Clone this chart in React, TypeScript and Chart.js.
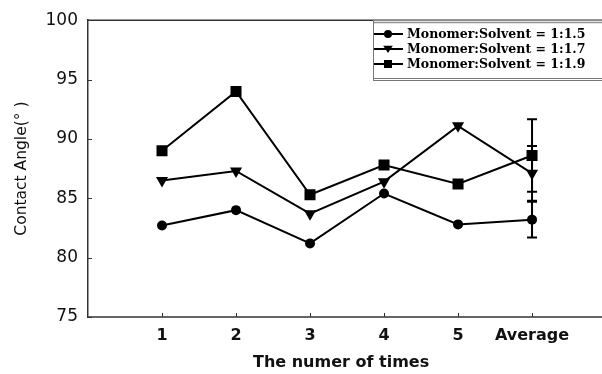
import React, { useEffect, useRef } from "react";
import { Chart, registerables } from "chart.js";

Chart.register(...registerables);

// Measurement order on the x axis and its labels
const xPositions = [1, 2, 3, 4, 5, 6];
const xLabels = ["1", "2", "3", "4", "5", "Average"];

// Contact angle (degrees) for each monomer:solvent ratio
const seriesLabels = [
  "Monomer:Solvent = 1:1.5",
  "Monomer:Solvent = 1:1.7",
  "Monomer:Solvent = 1:1.9",
];
const ratio15 = [82.7, 84.0, 81.2, 85.4, 82.8, 83.2];
const ratio17 = [86.5, 87.3, 83.7, 86.4, 91.1, 87.1];
const ratio19 = [89.0, 94.0, 85.3, 87.8, 86.2, 88.6];

// Standard deviation of the averages (last point of each series)
const averageError = [1.5, 2.3, 3.05];

const yTicks = [75, 80, 85, 90, 95, 100];

const pointStyles = ["circle", "triangle", "rect"] as const;
const pointRadii = [5, 7, 7.8];
const pointRotations = [0, 180, 0];

const toPoints = (arr: number[]) => arr.map((y, i) => ({ x: xPositions[i], y }));

// Open frame: top and bottom lines run to the canvas edge, plus inward ticks
const frameAndTicks = {
  id: "frameAndTicks",
  afterDraw(chart: any) {
    const { ctx, chartArea } = chart;
    const xs = chart.scales.x;
    const ys = chart.scales.y;
    ctx.save();
    ctx.strokeStyle = "#333";
    ctx.lineWidth = 1.5;
    ctx.beginPath();
    ctx.moveTo(chartArea.left, chartArea.top);
    ctx.lineTo(chart.width, chartArea.top);
    ctx.moveTo(chartArea.left, chartArea.bottom);
    ctx.lineTo(chart.width, chartArea.bottom);
    ctx.stroke();
    ctx.lineWidth = 1;
    ctx.beginPath();
    for (const v of yTicks) {
      const py = Math.round(ys.getPixelForValue(v)) + 0.5;
      ctx.moveTo(chartArea.left, py);
      ctx.lineTo(chartArea.left + 4, py);
    }
    for (const v of xPositions) {
      const px = Math.round(xs.getPixelForValue(v)) + 0.5;
      ctx.moveTo(px, chartArea.bottom);
      ctx.lineTo(px, chartArea.bottom - 4);
    }
    ctx.stroke();
    ctx.restore();
  },
};

const errorBars = {
  id: "errorBars",
  beforeDatasetsDraw(chart: any) {
    const { ctx } = chart;
    const xs = chart.scales.x;
    const ys = chart.scales.y;
    ctx.save();
    ctx.strokeStyle = "#000";
    ctx.lineWidth = 2;
    chart.data.datasets.forEach((ds: any, i: number) => {
      const last = ds.data[ds.data.length - 1];
      const px = xs.getPixelForValue(last.x);
      const top = ys.getPixelForValue(last.y + averageError[i]);
      const bot = ys.getPixelForValue(last.y - averageError[i]);
      ctx.beginPath();
      ctx.moveTo(px, top);
      ctx.lineTo(px, bot);
      ctx.moveTo(px - 5, top);
      ctx.lineTo(px + 5, top);
      ctx.moveTo(px - 5, bot);
      ctx.lineTo(px + 5, bot);
      ctx.stroke();
    });
    ctx.restore();
  },
};

function drawMarker(ctx: CanvasRenderingContext2D, style: string, x: number, y: number, s: number) {
  ctx.beginPath();
  if (style === "circle") {
    ctx.arc(x, y, s, 0, Math.PI * 2);
  } else if (style === "rect") {
    ctx.rect(x - s, y - s, 2 * s, 2 * s);
  } else {
    ctx.moveTo(x - s * 1.2, y - s * 0.8);
    ctx.lineTo(x + s * 1.2, y - s * 0.8);
    ctx.lineTo(x, y + s * 1.0);
    ctx.closePath();
  }
  ctx.fill();
}

const boxLegend = {
  id: "boxLegend",
  afterDraw(chart: any) {
    const { ctx, chartArea } = chart;
    const left = 373;
    const top = chartArea.top;
    const bottom = 80;
    const right = chart.width;
    ctx.save();
    ctx.fillStyle = "#fff";
    ctx.fillRect(left, top, right - left, bottom - top);
    ctx.strokeStyle = "#777";
    ctx.lineWidth = 1;
    ctx.beginPath();
    ctx.moveTo(left + 0.5, top);
    ctx.lineTo(left + 0.5, bottom);
    ctx.moveTo(left, top + 0.5);
    ctx.lineTo(right, top + 0.5);
    ctx.moveTo(left, top + 2.5);
    ctx.lineTo(right, top + 2.5);
    ctx.moveTo(left, bottom - 1.5);
    ctx.lineTo(right, bottom - 1.5);
    ctx.moveTo(left, bottom + 0.5);
    ctx.lineTo(right, bottom + 0.5);
    ctx.stroke();

    ctx.font = "bold 12.5px 'DejaVu Serif'";
    ctx.textBaseline = "middle";
    ctx.textAlign = "left";
    seriesLabels.forEach((label, i) => {
      const y = 34 + i * 15;
      ctx.strokeStyle = "#000";
      ctx.fillStyle = "#000";
      ctx.lineWidth = 2;
      ctx.beginPath();
      ctx.moveTo(left + 1, y);
      ctx.lineTo(left + 30, y);
      ctx.stroke();
      drawMarker(ctx, pointStyles[i], left + 15, y, 4);
      ctx.fillText(label, left + 34, y + 1);
    });
    ctx.restore();
  },
};

export default function App() {
  const canvasRef = useRef<HTMLCanvasElement | null>(null);

  useEffect(() => {
    const canvas = canvasRef.current;
    if (!canvas) return;
    const seriesData = [ratio15, ratio17, ratio19];
    const chart = new Chart(canvas, {
      type: "line",
      data: {
        datasets: seriesData.map((arr, i) => ({
          label: seriesLabels[i],
          data: toPoints(arr),
          borderColor: "#000",
          backgroundColor: "#000",
          borderWidth: 2,
          pointStyle: pointStyles[i],
          pointRadius: pointRadii[i],
          pointRotation: pointRotations[i],
          pointBackgroundColor: "#000",
          pointBorderColor: "#000",
          pointBorderWidth: 0,
          tension: 0,
        })),
      },
      options: {
        responsive: false,
        animation: false,
        events: [],
        layout: { padding: { top: 15, left: 0, right: 0, bottom: 0 } },
        plugins: {
          legend: { display: false },
          tooltip: { enabled: false },
        },
        scales: {
          x: {
            type: "linear",
            min: 0,
            max: 6.84,
            grid: { display: false, drawTicks: false },
            border: { display: false },
            afterBuildTicks: (s: any) => {
              s.ticks = xPositions.map((v) => ({ value: v }));
            },
            afterFit: (s: any) => {
              s.height = 57;
            },
            ticks: {
              autoSkip: false,
              maxRotation: 0,
              padding: 9,
              color: "#111",
              font: { family: "'DejaVu Sans'", size: 16, weight: "bold" },
              callback: (_v: any, idx: number) => xLabels[idx],
            },
            title: {
              display: true,
              text: "The numer of times",
              color: "#111",
              padding: { top: 0, bottom: 2 },
              font: { family: "'DejaVu Sans'", size: 16, weight: "bold" },
            },
          },
          y: {
            min: 75,
            max: 100,
            grid: { display: false, drawTicks: false },
            border: { display: true, color: "#333", width: 1.5 },
            afterBuildTicks: (s: any) => {
              s.ticks = yTicks.map((v) => ({ value: v }));
            },
            afterFit: (s: any) => {
              s.width = 88;
            },
            ticks: {
              padding: 10,
              color: "#111",
              font: { family: "'DejaVu Sans'", size: 17 },
            },
            title: {
              display: true,
              text: "Contact Angle(° )",
              color: "#111",
              padding: { top: 13, bottom: 0 },
              font: { family: "'DejaVu Sans'", size: 15.5 },
            },
          },
        },
      },
      plugins: [errorBars, frameAndTicks, boxLegend],
    });
    return () => chart.destroy();
  }, []);

  return (
    <div style={{ position: "fixed", left: 0, top: 0, width: 602, height: 374, background: "#fff" }}>
      <canvas ref={canvasRef} width={602} height={374} style={{ width: 602, height: 374, display: "block" }} />
    </div>
  );
}
